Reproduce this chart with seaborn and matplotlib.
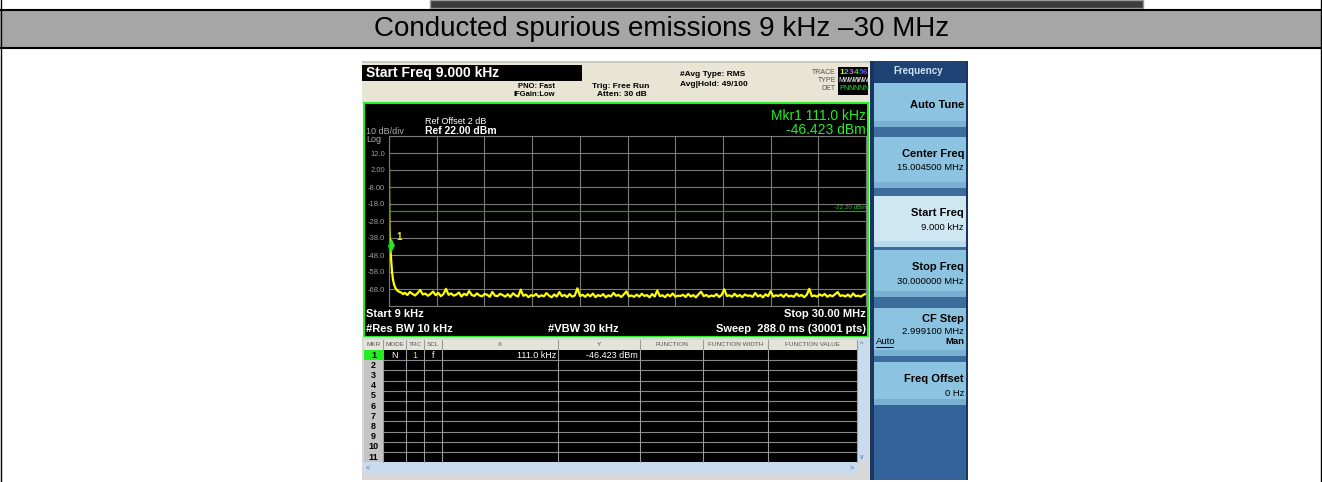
import numpy as np
import pandas as pd
import matplotlib
matplotlib.use("Agg")
import matplotlib.pyplot as plt
from matplotlib.patches import Rectangle
import seaborn as sns


# chart data
title = "Conducted spurious emissions 9 kHz \u201330 MHz"
start_mhz = 0.009
stop_mhz = 30.0
ref_dbm = 22.0
db_per_div = 10
display_line_dbm = -22.20
marker_mhz = 0.111
marker_dbm = -46.423

# start of the sweep (LO feedthrough falling into the noise floor)
knee_mhz = [0.009, 0.015, 0.03, 0.05, 0.08, 0.111, 0.15, 0.2, 0.26, 0.33, 0.42, 0.52, 0.64, 0.78, 0.9]
knee_dbm = [3.0, -12.0, -28.0, -37.0, -42.5, -46.4, -52.0, -58.0, -62.5, -65.5, -67.5, -68.8, -69.6, -70.1, -71.0]

# noise floor, 1 MHz .. 30 MHz
noise_dbm = [
    -70.2, -71.5, -69.8, -70.9, -71.8, -70.4, -68.6, -71.2, -70.7, -72.0,
    -70.9, -69.5, -71.6, -70.3, -72.2, -71.0, -67.9, -71.4, -70.6, -71.9,
    -71.3, -70.1, -72.4, -70.8, -71.7, -69.2, -71.5, -72.1, -70.6, -71.8,
    -72.3, -70.9, -71.4, -72.6, -69.7, -71.9, -72.2, -70.8, -71.6, -72.5,
    -71.1, -72.7, -70.5, -71.8, -72.4, -68.4, -72.0, -71.3, -72.8, -71.6,
    -72.1, -70.9, -72.6, -71.7, -72.3, -70.4, -71.9, -72.9, -71.2, -72.4,
    -69.8, -72.2, -71.5, -72.7, -71.0, -72.5, -71.8, -67.6, -72.1, -71.4,
    -72.6, -71.1, -72.3, -70.7, -72.8, -71.6, -72.2, -71.0, -72.9, -71.7,
    -72.4, -70.3, -72.0, -71.5, -72.7, -71.2, -69.4, -72.3, -71.8, -72.6,
    -71.3, -72.5, -70.8, -72.1, -71.6, -72.9, -71.0, -72.4, -68.9, -72.2,
    -71.7, -72.8, -71.2, -72.3, -70.6, -72.6, -71.9, -72.1, -71.4, -72.7,
    -70.9, -72.4, -71.6, -72.9, -71.1, -69.6, -72.2, -71.5, -72.6, -71.8,
    -72.3, -71.0, -72.7, -71.4, -68.2, -72.1, -71.7, -72.5, -70.8, -72.4,
    -71.5, -72.8, -71.2, -72.0, -71.8, -72.6, -70.4, -72.3, -71.6, -72.9,
    -71.1, -72.2, -69.3, -72.5, -71.7, -72.1, -71.3, -72.7, -71.0, -72.4,
    -71.9, -72.6, -70.7, -72.2, -71.5, -72.8, -71.4, -67.9, -72.3, -71.8,
    -72.5, -71.2, -72.0, -70.9, -72.6, -71.6, -72.3, -71.1, -69.8, -72.1,
    -71.7, -72.4, -71.3, -72.7, -70.6, -72.2, -71.9, -72.5, -71.4, -70.8,
]

ytick_labels = ["12.0", "2.00", "-8.00", "-18.0", "-28.0", "-38.0", "-48.0", "-58.0", "-68.0"]
softkey_titles = ["Auto Tune", "Center Freq", "Start Freq", "Stop Freq", "CF Step", "Freq Offset"]
softkey_values = ["", "15.004500 MHz", "9.000 kHz", "30.000000 MHz", "2.999100 MHz", "0 Hz"]
table_cols = ["MKR", "MODE", "TRC", "SCL", "X", "Y", "FUNCTION", "FUNCTION WIDTH", "FUNCTION VALUE"]
marker_row = ["1", "N", "1", "f", "111.0 kHz", "-46.423 dBm"]
n_table_rows = 11


# trace table
trace_df = pd.DataFrame({
    "freq_mhz": knee_mhz + list(np.linspace(1.0, stop_mhz, len(noise_dbm))),
    "level_dbm": knee_dbm + noise_dbm,
})


# settings
sns.set_style("white")
plt.rcParams["font.family"] = ["Liberation Sans", "DejaVu Sans"]

W, H = 1322, 482
fig = plt.figure(figsize=(W / 100, H / 100), dpi=100)
bg = fig.add_axes([0, 0, 1, 1])
bg.set_xlim(0, W)
bg.set_ylim(H, 0)
bg.axis("off")


def box(x0, y0, x1, y1, color, edge="none", lw=0):
    bg.add_patch(Rectangle((x0, y0), x1 - x0, y1 - y0, facecolor=color, edgecolor=edge, lw=lw))


def txt(x, y, s, size=7, color="black", ha="left", weight="normal"):
    bg.text(x, y, s, fontsize=size, color=color, ha=ha, va="center", fontweight=weight)


def fig_box(x0, y0, x1, y1):
    return [x0 / W, 1 - y1 / H, (x1 - x0) / W, (y1 - y0) / H]


# page / table frame
box(430, 0, 1143, 8, "#3c3c3c", edge="#9a9a9a", lw=1)
box(0, 10, W, 47, "#a6a6a6")
bg.plot([0, W], [9.5, 9.5], color="black", lw=1.5)
bg.plot([0, W], [47.5, 47.5], color="black", lw=1.5)
bg.plot([1, 1], [0, H], color="black", lw=1)
bg.plot([1320.5, 1320.5], [0, H], color="black", lw=1)
txt(662, 29, title, size=20, ha="center")


# analyzer status bar
box(362, 61, 870, 103, "#e8e5d5")
box(362, 61, 870, 63, "#c8c8c0")
box(362, 65, 582, 81, "black")
txt(366, 73, "Start Freq 9.000 kHz", size=10, color="white", weight="bold")
txt(555, 86, "PNO: Fast", size=5.5, ha="right", weight="bold")
txt(555, 95, "IFGain:Low", size=5.5, ha="right", weight="bold")
txt(592, 86, "Trig: Free Run", size=6, weight="bold")
txt(597, 95, "Atten: 30 dB", size=6, weight="bold")
txt(680, 74, "#Avg Type: RMS", size=6, weight="bold")
txt(680, 84, "Avg|Hold: 49/100", size=6, weight="bold")
box(838, 67, 868, 95, "black")
txt(836, 73, "TRACE", size=5, color="#555555", ha="right")
txt(836, 81, "TYPE", size=5, color="#555555", ha="right")
txt(836, 89, "DET", size=5, color="#555555", ha="right")
trace_colors = ["#f0f000", "#00c8ff", "#ff40ff", "#30e030", "#4060ff", "#9040ff"]
for i, (d, c) in enumerate(zip("123456", trace_colors)):
    txt(841.5 + i * 4.8, 73, d, size=6, color=c, ha="center", weight="bold")
    txt(841.5 + i * 4.8, 81, "MWWWWW"[i], size=5, color="white", ha="center")
    txt(841.5 + i * 4.8, 89, "PNNNNN"[i], size=5, color="#30e030", ha="center")


# main display panel
box(364, 103, 868, 337, "black", edge="#22ee22", lw=1.5)
txt(366, 131, "10 dB/div", size=6.5, color="#b0b0b0")
txt(366, 139, "Log", size=6.5, color="#b0b0b0")
txt(425, 121, "Ref Offset 2 dB", size=6.5, color="white")
txt(425, 131, "Ref 22.00 dBm", size=7.5, color="white", weight="bold")
txt(866, 116, "Mkr1 111.0 kHz", size=10, color="#22ee22", ha="right")
txt(866, 130, "-46.423 dBm", size=10, color="#22ee22", ha="right")
txt(366, 314, "Start 9 kHz", size=8, color="white", weight="bold")
txt(866, 314, "Stop 30.00 MHz", size=8, color="white", ha="right", weight="bold")
txt(366, 329, "#Res BW 10 kHz", size=8, color="white", weight="bold")
txt(583, 329, "#VBW 30 kHz", size=8, color="white", ha="center", weight="bold")
txt(866, 329, "Sweep  288.0 ms (30001 pts)", size=8, color="white", ha="right", weight="bold")


# spectrum trace
ax = fig.add_axes(fig_box(389, 136, 866, 306))
ax.set_facecolor("black")
sns.lineplot(data=trace_df, x="freq_mhz", y="level_dbm", color="#ffff00", lw=1.6,
             estimator=None, sort=False, legend=False, ax=ax)
ax.axhline(display_line_dbm, color="#1f9a1f", lw=0.9)
ax.text(stop_mhz, display_line_dbm + 0.8, "%.2f dBm" % display_line_dbm, fontsize=4.5,
        color="#2cc02c", ha="right", va="bottom")
diamond = [(0, 0), (-1, 2.2), (0, 4.4), (1, 2.2)]
ax.plot([marker_mhz], [marker_dbm], marker=diamond, ms=18, color="#22ee22", clip_on=False)
ax.annotate("1", (marker_mhz, marker_dbm), xytext=(4, 9), textcoords="offset points",
            color="#f0f000", fontsize=7, fontweight="bold")
bottom_dbm = ref_dbm - 10 * db_per_div
ax.set_xlim(start_mhz, stop_mhz)
ax.set_ylim(bottom_dbm, ref_dbm)
ax.set_xticks(np.linspace(start_mhz, stop_mhz, 11))
ax.set_xticklabels([])
ax.set_yticks(np.arange(bottom_dbm, ref_dbm + 1, db_per_div))
ax.set_yticklabels([""] + ytick_labels[::-1] + [""])
ax.tick_params(length=0, pad=3, labelsize=5.5, labelcolor="#a0a0a0")
ax.grid(True, color="#7a7a7a", lw=0.8)
for s in ax.spines.values():
    s.set_color("#7a7a7a")
    s.set_linewidth(0.8)
ax.set_xlabel("")
ax.set_ylabel("")


# marker table
col_edges = [364, 383, 406, 424, 442, 558, 640, 703, 768, 857]
row_top, row_h = 350, 10.2
row_bottom = row_top + n_table_rows * row_h
box(362, 337, 870, 480, "#d8d8d8")
box(364, 340, 857, row_top, "#e6e4da")
box(383, row_top, 857, row_bottom, "black")
box(364, row_top, 383, row_bottom, "#c4c4c4")
box(364, row_top, 383, row_top + row_h, "#22ee22")
for i in range(1, n_table_rows):
    y = row_top + i * row_h
    bg.plot([383, 857], [y, y], color="#8a8a8a", lw=0.8)
for x in col_edges[1:]:
    bg.plot([x, x], [340, row_bottom], color="#9a9a9a", lw=0.8)
for i, name in enumerate(table_cols):
    txt((col_edges[i] + col_edges[i + 1]) / 2, 345, name, size=4.6, color="#555555", ha="center")
for i in range(n_table_rows):
    txt(373.5, row_top + (i + 0.5) * row_h, str(i + 1), size=6.5, ha="center", weight="bold")
ry = row_top + 0.5 * row_h
txt(394.5, ry, marker_row[1], size=6.5, color="white", ha="center")
txt(415, ry, marker_row[2], size=6.5, color="#f0f000", ha="center")
txt(433, ry, marker_row[3], size=6.5, color="white", ha="center")
txt(556, ry, marker_row[4], size=6.5, color="white", ha="right")
txt(638, ry, marker_row[5], size=6.5, color="white", ha="right")
box(857, 340, 868, row_bottom, "#c9dbef")
box(364, row_bottom, 857, 474, "#c9dbef")
txt(862, 345, "^", size=5, color="#4a6a9a", ha="center")
txt(862, row_bottom - 5, "v", size=5, color="#4a6a9a", ha="center")
txt(368, 468, "<", size=5, color="#4a6a9a", ha="center")
txt(852, 468, ">", size=5, color="#4a6a9a", ha="center")


# softkey panel
box(870, 61, 968, 480, "#3d6d9d")
box(870, 61, 874, 480, "#1a3560")
box(966, 61, 968, 480, "#1a3560")
box(874, 61, 966, 83, "#1f4275")
txt(918, 71, "Frequency", size=7, color="#cfe2f3", ha="center", weight="bold")
key_spans = [(83, 127), (137, 188), (196, 247), (250, 297), (308, 356), (362, 405)]
for k, (y0, y1) in enumerate(key_spans):
    face = "#cfe6f3" if softkey_titles[k] == "Start Freq" else "#8cc3e0"
    box(874, y0, 966, y1, face)
    box(874, y1 - 6, 966, y1, "#79b0d2" if k != 2 else "#b9d9ec")
    if softkey_values[k] == "":
        txt(964, (y0 + y1) / 2, softkey_titles[k], size=8, ha="right", weight="bold")
    elif softkey_titles[k] == "CF Step":
        txt(964, y0 + 11, softkey_titles[k], size=8, ha="right", weight="bold")
        txt(964, y0 + 23, softkey_values[k], size=6.8, ha="right")
        txt(876, y0 + 34, "Auto", size=6.8)
        bg.plot([876, 893], [y0 + 39, y0 + 39], color="black", lw=0.7)
        txt(964, y0 + 34, "Man", size=6.8, ha="right", weight="bold")
    else:
        txt(964, y0 + 17, softkey_titles[k], size=8, ha="right", weight="bold")
        txt(964, y0 + 31, softkey_values[k], size=6.8, ha="right")
box(874, 405, 966, 480, "#33639a")

fig.savefig("out.png", dpi=100)
